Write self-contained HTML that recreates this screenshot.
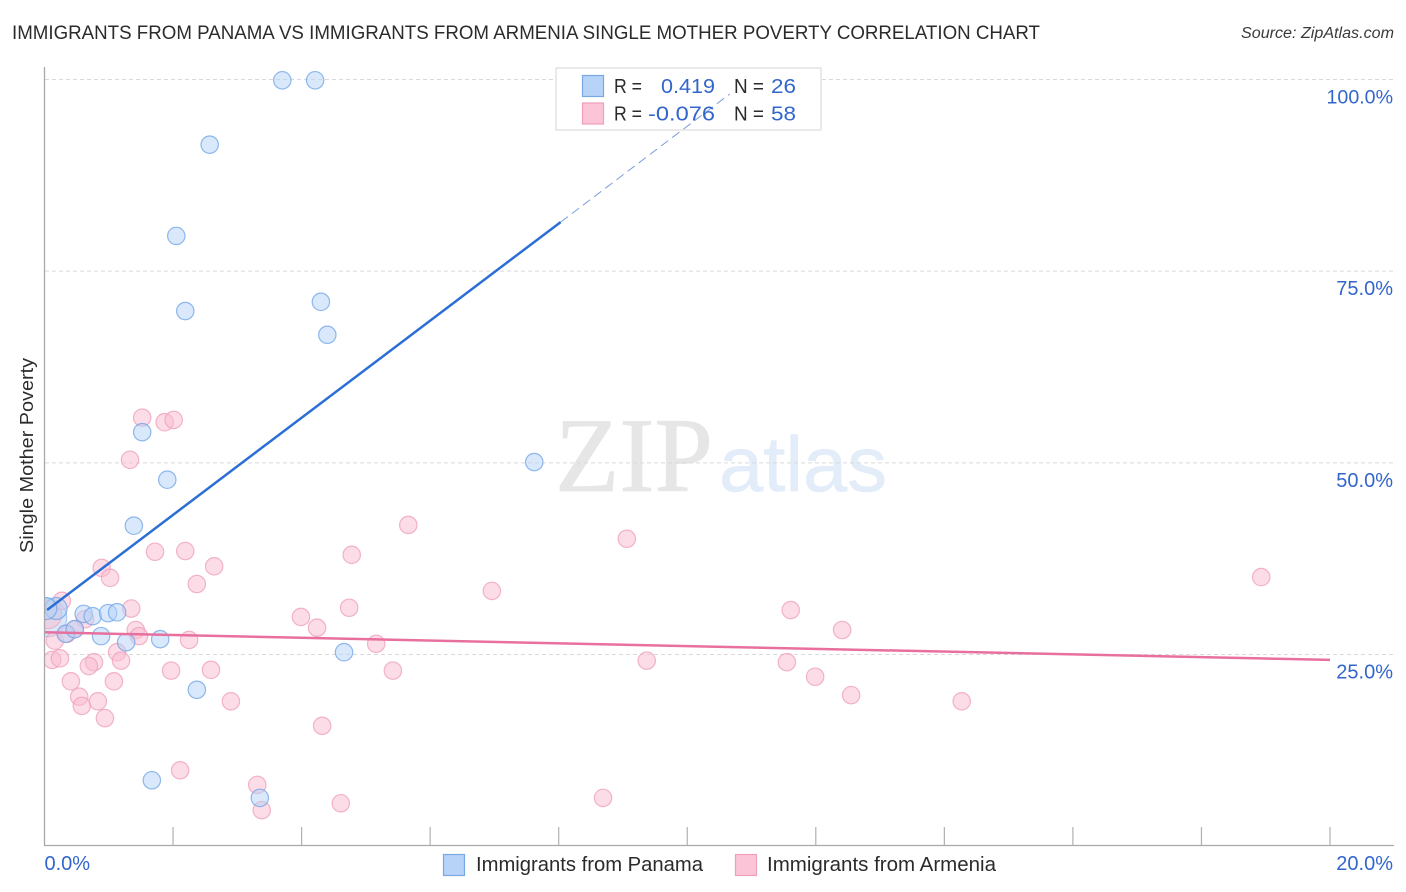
<!DOCTYPE html>
<html lang="en">
<head>
<meta charset="utf-8">
<title>Immigrants from Panama vs Immigrants from Armenia Single Mother Poverty Correlation Chart</title>
<style>
html,body{margin:0;padding:0;background:#fff;width:1406px;height:892px;overflow:hidden}
svg{display:block}
text{font-family:"Liberation Sans",sans-serif}
</style>
</head>
<body>
<svg id="chart" width="1406" height="892" viewBox="0 0 1406 892" xmlns="http://www.w3.org/2000/svg">
  <defs>
    <clipPath id="plot-clip"><rect x="45" y="60" width="1349" height="786"/></clipPath>
  </defs>
  <text x="12" y="39" font-size="19.5" fill="#2b2b2b" textLength="1028" lengthAdjust="spacingAndGlyphs">IMMIGRANTS FROM PANAMA VS IMMIGRANTS FROM ARMENIA SINGLE MOTHER POVERTY CORRELATION CHART</text>
  <text x="1241" y="38" font-size="15.5" font-style="italic" fill="#3a3a3a" textLength="153" lengthAdjust="spacingAndGlyphs">Source: ZipAtlas.com</text>
  <g>
    <text x="555" y="491" style="font-family:'Liberation Serif',serif" font-size="106" fill="#e6e6e6" stroke="#e6e6e6" stroke-width="0.8" textLength="158" lengthAdjust="spacingAndGlyphs">ZIP</text>
    <text x="719" y="491" font-size="78" fill="#e3ecf9" stroke="#e3ecf9" stroke-width="0.6" textLength="168" lengthAdjust="spacingAndGlyphs">atlas</text>
  </g>
  <g id="grid"></g>
  <rect x="556" y="68" width="265" height="62" fill="#fff" stroke="#dddddd" stroke-width="1.2"/>
  <g id="marks" clip-path="url(#plot-clip)"></g>
  <g id="axes"></g>
  <text transform="translate(33,553) rotate(-90)" font-size="18" fill="#2b2b2b" textLength="195" lengthAdjust="spacingAndGlyphs">Single Mother Poverty</text>
  <g font-size="20.5">
    <rect x="582.5" y="75.5" width="21" height="21" fill="#b7d3f7" stroke="#79a9e4" stroke-width="1.2"/>
    <rect x="582.5" y="103" width="21" height="21" fill="#fcc5d7" stroke="#ef9fb9" stroke-width="1.2"/>
    <text x="614" y="93" fill="#2b2b2b" textLength="28" lengthAdjust="spacingAndGlyphs">R =</text>
    <text x="661" y="93" fill="#3366cc" textLength="54" lengthAdjust="spacingAndGlyphs">0.419</text>
    <text x="734" y="93" fill="#2b2b2b" textLength="30" lengthAdjust="spacingAndGlyphs">N =</text>
    <text x="771" y="93" fill="#3366cc" textLength="25" lengthAdjust="spacingAndGlyphs">26</text>
    <text x="614" y="120.500" fill="#2b2b2b" textLength="28" lengthAdjust="spacingAndGlyphs">R =</text>
    <text x="648" y="120.500" fill="#3366cc" textLength="67" lengthAdjust="spacingAndGlyphs">-0.076</text>
    <text x="734" y="120.500" fill="#2b2b2b" textLength="30" lengthAdjust="spacingAndGlyphs">N =</text>
    <text x="771" y="120.500" fill="#3366cc" textLength="25" lengthAdjust="spacingAndGlyphs">58</text>
  </g>
  <g font-size="20" fill="#2b2b2b">
    <rect x="443.500" y="854.500" width="21" height="21" fill="#b7d3f7" stroke="#79a9e4" stroke-width="1.2"/>
    <text x="476" y="871" textLength="227" lengthAdjust="spacingAndGlyphs">Immigrants from Panama</text>
    <rect x="735.500" y="854.500" width="21" height="21" fill="#fcc5d7" stroke="#ef9fb9" stroke-width="1.2"/>
    <text x="767" y="871" textLength="229" lengthAdjust="spacingAndGlyphs">Immigrants from Armenia</text>
  </g>
</svg>
<script>
const panamaX = [3.70,4.21,2.57,2.05,2.19,4.30,4.40,1.52,1.91,7.62,1.39,0.61,0.75,0.99,1.13,0.33,0.47,0.88,1.27,1.80,2.37,4.66,1.67,3.35];
const panamaY = [99.9,99.9,91.5,79.6,69.8,71.0,66.7,54.0,47.8,50.1,41.8,30.3,30.0,30.4,30.5,27.7,28.3,27.4,26.6,27.0,20.4,25.3,8.6,6.3];
const panamaLargeX = [0.05];
const panamaLargeY = [29.8];
const panamaMediumX = [0.18,0.02];
const panamaMediumY = [31.0,31.0];
const armeniaX = [1.52,1.87,2.01,1.33,5.66,9.06,1.72,2.19,4.78,0.89,1.02,2.64,2.37,6.96,18.93,0.27,1.35,4.74,11.61,3.99,0.63,4.24,12.41,1.42,1.47,2.25,5.16,0.16,0.35,0.47,0.12,0.24,0.77,0.69,1.13,1.19,1.97,2.59,5.42,9.37,11.55,11.99,0.41,1.08,0.54,0.83,0.58,12.55,2.90,14.27,0.94,4.32,2.11,3.31,4.61,3.38,8.69];
const armeniaY = [55.9,55.3,55.6,50.4,41.9,40.1,38.4,38.5,38.0,36.3,35.0,36.5,34.2,33.3,35.1,32.0,31.0,31.1,30.8,29.9,29.6,28.5,28.2,28.2,27.4,26.9,26.4,26.8,27.7,28.3,24.3,24.5,24.0,23.5,25.3,24.2,22.9,23.0,22.9,24.2,24.0,22.1,21.5,21.5,19.5,18.9,18.3,19.7,18.9,18.9,16.7,15.7,9.9,8.0,5.6,4.7,6.3];
const armeniaLargeX = [0.05];
const armeniaLargeY = [30.2];
const panamaTrendX = [0.04,8.03];
const panamaTrendY = [30.8,81.4];
const panamaProjectionX = [8.03,10.66];
const panamaProjectionY = [81.4,98.1];
const armeniaTrendX = [0,20];
const armeniaTrendY = [27.9,24.3];
const yTicks = [25,50,75,100];
const yTickLabels = ['25.0%','50.0%','75.0%','100.0%'];
const xTicks = [2,4,6,8,10,12,14,16,18,20];
const xEndTicks = [0,20];
const xEndLabels = ['0.0%','20.0%'];

const NS = 'http://www.w3.org/2000/svg';
const xScale = function (v) { return 44.5 + v * 64.275; };
const yScale = function (v) { return 79.5 + (100 - v) * 7.667; };
const gridGroup = document.getElementById('grid');
const marksGroup = document.getElementById('marks');
const axesGroup = document.getElementById('axes');

function makeLine(parent, x1, y1, x2, y2, stroke, width) {
  const el = document.createElementNS(NS, 'line');
  el.setAttribute('x1', x1);
  el.setAttribute('y1', y1);
  el.setAttribute('x2', x2);
  el.setAttribute('y2', y2);
  el.setAttribute('stroke', stroke);
  el.setAttribute('stroke-width', width);
  parent.appendChild(el);
  return el;
}

function makeCircle(cx, cy, r, fill, stroke) {
  const el = document.createElementNS(NS, 'circle');
  el.setAttribute('cx', cx);
  el.setAttribute('cy', cy);
  el.setAttribute('r', r);
  el.setAttribute('fill', fill);
  el.setAttribute('fill-opacity', '0.52');
  el.setAttribute('stroke', stroke);
  el.setAttribute('stroke-opacity', '0.75');
  el.setAttribute('stroke-width', '1.2');
  marksGroup.appendChild(el);
  return el;
}

function makeText(str, x, y, anchor) {
  const el = document.createElementNS(NS, 'text');
  el.setAttribute('x', x);
  el.setAttribute('y', y);
  el.setAttribute('text-anchor', anchor);
  el.setAttribute('font-size', str.length > 5 ? '19.6' : '20');
  el.setAttribute('fill', '#3366cc');
  el.textContent = str;
  axesGroup.appendChild(el);
  return el;
}

yTicks.forEach(function (t) {
  const el = makeLine(gridGroup, 45, yScale(t), 1394, yScale(t), '#d9d9d9', 1);
  el.setAttribute('stroke-dasharray', '4 3');
  
  
});

const yAxisLine = makeLine(axesGroup, 44.5, 67, 44.5, 846, '#a9a9a9', 1.3);


const xAxisLine = makeLine(axesGroup, 44, 845.5, 1394, 845.5, '#a9a9a9', 1.3);



xTicks.forEach(function (t) {
  const el = makeLine(axesGroup, xScale(t), 827, xScale(t), 845, '#b0b0b0', 1.2);
  
  
});

yTicks.forEach(function (t, i) {
  const el = makeText(yTickLabels[i], 1393, yScale(t) + 24, 'end');
  
  
});

xEndTicks.forEach(function (t, i) {
  const px = i === 0 ? xScale(t) : 1393;
  const el = makeText(xEndLabels[i], px, 870, i === 0 ? 'start' : 'end');
  
  
});

panamaLargeX.forEach(function (v, i) {
  const el = makeCircle(xScale(v), yScale(panamaLargeY[i]), 19, '#b7d3f7', '#8fbcec');
  
  
});
armeniaLargeX.forEach(function (v, i) {
  const el = makeCircle(xScale(v), yScale(armeniaLargeY[i]), 14, '#f9bcd0', '#f0a8c0');
  
  
});
armeniaX.forEach(function (v, i) {
  const el = makeCircle(xScale(v), yScale(armeniaY[i]), 8.7, '#f9bcd0', '#ee9db9');
  
  
});
panamaMediumX.forEach(function (v, i) {
  const el = makeCircle(xScale(v), yScale(panamaMediumY[i]), 11, '#b7d3f7', '#6ea3e6');
  
  
});
panamaX.forEach(function (v, i) {
  const el = makeCircle(xScale(v), yScale(panamaY[i]), 8.7, '#b7d3f7', '#6ea3e6');
  
  
});

const panamaTrend = makeLine(marksGroup, xScale(panamaTrendX[0]), yScale(panamaTrendY[0]), xScale(panamaTrendX[1]), yScale(panamaTrendY[1]), '#2b6fd6', 2.5);



const panamaProjection = makeLine(marksGroup, xScale(panamaProjectionX[0]), yScale(panamaProjectionY[0]), xScale(panamaProjectionX[1]), yScale(panamaProjectionY[1]), '#7d9bdc', 1);
panamaProjection.setAttribute('stroke-dasharray', '9 5');



const armeniaTrend = makeLine(marksGroup, xScale(armeniaTrendX[0]), yScale(armeniaTrendY[0]), xScale(armeniaTrendX[1]), yScale(armeniaTrendY[1]), '#e8709f', 2.5);


</script>
</body>
</html>
